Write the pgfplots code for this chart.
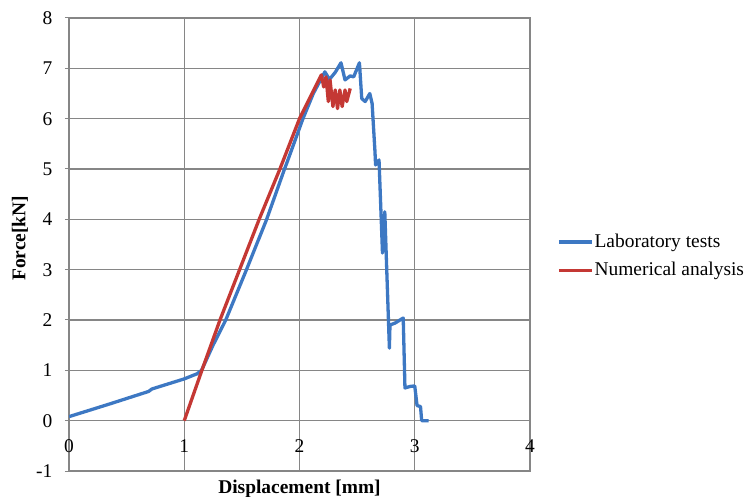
\documentclass[border=0pt]{standalone}
\usepackage{fontspec}
\setmainfont{Liberation Serif}
\usepackage{pgfplots}
\pgfplotsset{compat=1.18}
\definecolor{labblue}{RGB}{61,120,195}
\definecolor{numred}{RGB}{196,56,52}
\definecolor{gridgray}{RGB}{134,134,134}
\begin{document}
\fontsize{19.5}{23}\selectfont
\begin{tikzpicture}
\path[use as bounding box] (0,0) rectangle (748bp,497bp);
\begin{axis}[
  at={(69bp,26bp)}, anchor=south west, scale only axis,
  width=461bp, height=453bp,
  xmin=0, xmax=4, ymin=-1, ymax=8,
  xtick={0,1,2,3,4}, ytick={-1,0,1,2,3,4,5,6,7,8},
  grid=major, major grid style={gridgray, line width=1.1bp},
  axis line style={gridgray, line width=1.1bp},
  ytick pos=left, tick align=outside, major tick length=4bp,
  ytick style={gridgray, line width=1bp},
  xtick style={draw=none},
  /pgf/number format/assume math mode=true,
  ticklabel style={font=\fontsize{19.5}{23}\selectfont},
  xticklabel style={anchor=center, yshift=28.5bp},
  yticklabel style={xshift=-6bp},
  every axis x label/.style={at={(axis description cs:0.5,0)}, anchor=base, yshift=-22bp},
  every axis y label/.style={at={(axis description cs:-0.1063,0.514)}, rotate=90, anchor=center},
  xlabel={\textbf{Displacement [mm]}},
  ylabel={\textbf{Force[kN]}},
  legend style={at={(1.0586,0.4746)}, anchor=west, draw=none, fill=none,
    font=\fontsize{19.5}{23}\selectfont, row sep=10bp, inner sep=0pt,
    nodes={inner sep=1bp}},
  legend cell align=left,
  legend image code/.code={\draw[#1, line width=3.4bp] (0bp,0bp) -- (33bp,0bp);},
]
\addplot[labblue, line width=3.3bp, line join=round] coordinates {
(0,0.08) (0.35,0.33) (0.69,0.58) (0.72,0.63) (1.0,0.83) (1.11,0.93)
(1.15,1.0) (1.25,1.5) (1.36,2.0) (1.54,3.0) (1.715,4.0) (1.87,5.0) (1.89,5.12) (2.03,6.0)
(2.12,6.5) (2.22,6.93) (2.26,6.78) (2.31,6.92) (2.36,7.11) (2.395,6.77)
(2.44,6.85) (2.47,6.83) (2.52,7.11) (2.54,6.40) (2.57,6.34) (2.61,6.50)
(2.63,6.30) (2.655,5.34) (2.66,5.08) (2.69,5.18) (2.72,3.33) (2.74,4.15)
(2.78,1.44) (2.785,1.90) (2.83,1.94) (2.90,2.04) (2.915,0.65) (2.96,0.68)
(3.0,0.69) (3.02,0.30) (3.05,0.28) (3.06,0.0) (3.12,0.0)
};
\addlegendentry{Laboratory tests}
\addplot[numred, line width=3.3bp, line join=round] coordinates {
(1.0,0) (1.15,0.98) (1.31,2.0) (1.48,3.0) (1.65,4.0) (1.83,5.0) (2.0,6.0)
(2.19,6.87) (2.21,6.63) (2.23,6.83) (2.25,6.34) (2.265,6.77) (2.29,6.24)
(2.31,6.57) (2.33,6.20) (2.35,6.57) (2.37,6.24) (2.395,6.57) (2.41,6.34)
(2.44,6.60)
};
\addlegendentry{Numerical analysis}
\end{axis}
\end{tikzpicture}
\end{document}
